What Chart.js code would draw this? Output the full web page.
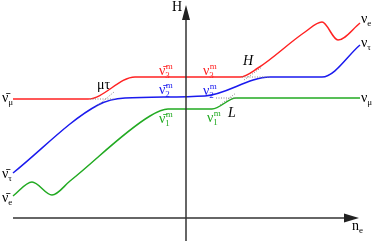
<!DOCTYPE html>
<html>
<head>
<meta charset="utf-8">
<script src="https://cdn.jsdelivr.net/npm/chart.js@4/dist/chart.umd.min.js"></script>
<style>
html,body{margin:0;padding:0;background:#fff;}
#wrap{width:374px;height:241px;}
</style>
</head>
<body>
<div id="wrap"><canvas id="c" width="374" height="241"></canvas></div>
<script>
// Schematic level-crossing data (x = n_e, y = H), origin at the axes' crossing
const redX   = [-173, -98, -51, 54, 72, 119, 136, 152, 174];
const redY   = [119, 119, 141, 141, 150, 186, 196, 178, 195];
const blueX  = [-173, -88, -61, 19, 84, 136, 174];
const blueY  = [45, 113, 120, 122, 141, 141, 173];
const greenX = [-173, -154, -134, -116, -36, -18, 26, 50, 174];
const greenY = [22, 36, 23, 37, 102, 109, 109, 120, 120];
// dotted (unperturbed) crossing segments
const dotMuTauX = [-90, -72];  const dotMuTauY = [111, 126];
const dotMuTauHX = [-96, -72]; const dotMuTauHY = [119, 119];
const dotHX = [58, 76];        const dotHY = [138, 151];
const dotHHX = [56, 84];       const dotHHY = [141, 141];
const dotLX = [34, 50];        const dotLY = [113, 125];
const dotLHX = [30, 52];       const dotLHY = [120, 120];
// axes extents
const xAxisX = [-173, 158]; const xAxisY = [0, 0];
const yAxisX = [0, 0];      const yAxisY = [-23, 199];
const xArrowTip = 173; const yArrowTip = 213;

const zip = (xs, ys) => xs.map((x, i) => ({x, y: ys[i]}));

const RED = '#ff2222', BLUE = '#1a1aee', GREEN = '#22aa22';
const labels = [
  {x: -9,  y: 207, t: 'H', c: '#000', align: 'center'},
  {x: -184, y: 116, t: 'ν\u0304', sub: 'μ', c: '#000'},
  {x: -184, y: 40, t: 'ν\u0304', sub: 'τ', c: '#000'},
  {x: -184, y: 16, t: 'ν\u0304', sub: 'e', c: '#000'},
  {x: 175, y: 195, t: 'ν', sub: 'e', c: '#000'},
  {x: 175, y: 171, t: 'ν', sub: 'τ', c: '#000'},
  {x: 175, y: 116, t: 'ν', sub: 'μ', c: '#000'},
  {x: 166, y: -12, t: 'n', sub: 'e', c: '#000'},
  {x: -89, y: 129, t: 'μτ', c: '#000'},
  {x: 57, y: 153, t: 'H', c: '#000', it: true},
  {x: 42, y: 101, t: 'L', c: '#000', it: true},
  {x: -27, y: 143, t: 'ν\u0304', sub: '3', sup: 'm', c: RED},
  {x: -27, y: 124, t: 'ν\u0304', sub: '2', sup: 'm', c: BLUE},
  {x: -27, y: 95, t: 'ν\u0304', sub: '1', sup: 'm', c: GREEN},
  {x: 17, y: 143, t: 'ν', sub: '3', sup: 'm', c: RED},
  {x: 17, y: 123, t: 'ν', sub: '2', sup: 'm', c: BLUE},
  {x: 21, y: 96, t: 'ν', sub: '1', sup: 'm', c: GREEN},
];

const FONT = '"Liberation Serif", "DejaVu Serif", serif';

const line = (data, color, extra) => Object.assign({
  data, borderColor: color, borderWidth: 1.5, pointRadius: 0, showLine: true,
  fill: false, cubicInterpolationMode: 'monotone'
}, extra || {});
const dot = (data) => line(data, '#888', {borderWidth: 1, borderDash: [1, 1.5], cubicInterpolationMode: 'default', tension: 0});

const decor = {
  id: 'decor',
  afterDatasetsDraw(chart) {
    const ctx = chart.ctx, sx = chart.scales.x, sy = chart.scales.y;
    ctx.save();
    ctx.fillStyle = '#222';
    // x arrow
    let tx = sx.getPixelForValue(xArrowTip), ty = sy.getPixelForValue(0);
    ctx.beginPath(); ctx.moveTo(tx, ty); ctx.lineTo(tx - 15, ty - 4.5); ctx.lineTo(tx - 15, ty + 4.5); ctx.closePath(); ctx.fill();
    // y arrow
    tx = sx.getPixelForValue(0); ty = sy.getPixelForValue(yArrowTip);
    ctx.beginPath(); ctx.moveTo(tx, ty); ctx.lineTo(tx - 4, ty + 15); ctx.lineTo(tx + 4, ty + 15); ctx.closePath(); ctx.fill();
    // labels
    ctx.textBaseline = 'alphabetic';
    for (const l of labels) {
      const px = sx.getPixelForValue(l.x), py = sy.getPixelForValue(l.y);
      ctx.fillStyle = l.c;
      ctx.font = (l.it ? 'italic ' : '') + '14px ' + FONT;
      ctx.textAlign = l.align || 'left';
      ctx.fillText(l.t, px, py);
      const w = ctx.measureText(l.t).width;
      ctx.textAlign = 'left';
      ctx.font = '9px ' + FONT;
      if (l.sub) ctx.fillText(l.sub, px + w, py + 3);
      if (l.sup) ctx.fillText(l.sup, px + w + 0.5, py - 6.5);
    }
    ctx.restore();
  }
};

new Chart(document.getElementById('c'), {
  type: 'scatter',
  data: {
    datasets: [
      line(zip(xAxisX, xAxisY), '#333'),
      line(zip(yAxisX, yAxisY), '#333'),
      dot(zip(dotMuTauX, dotMuTauY)),
      dot(zip(dotMuTauHX, dotMuTauHY)),
      dot(zip(dotHX, dotHY)),
      dot(zip(dotHHX, dotHHY)),
      dot(zip(dotLX, dotLY)),
      dot(zip(dotLHX, dotLHY)),
      line(zip(greenX, greenY), GREEN),
      line(zip(blueX, blueY), BLUE),
      line(zip(redX, redY), RED),
    ]
  },
  options: {
    responsive: false,
    animation: false,
    layout: {padding: 0},
    plugins: {legend: {display: false}, tooltip: {enabled: false}},
    scales: {
      x: {type: 'linear', min: -186, max: 188, display: false},
      y: {type: 'linear', min: -23, max: 218, display: false}
    }
  },
  plugins: [decor]
});
</script>
</body>
</html>
